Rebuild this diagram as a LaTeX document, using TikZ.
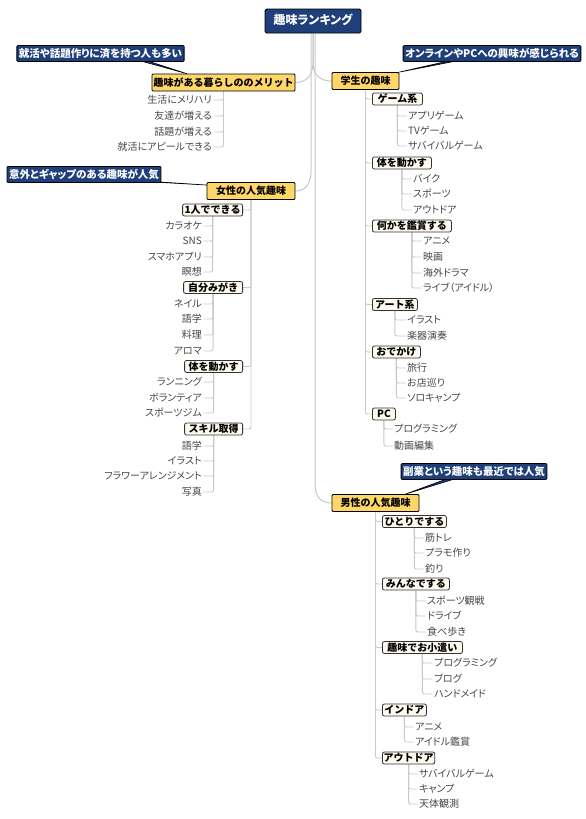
\documentclass[tikz,border=0pt]{standalone}
\usepackage{fontspec}
\setmainfont{Noto Sans CJK JP}[RawFeature=+palt]
\newfontfamily\jpfull{Noto Sans CJK JP}
\usetikzlibrary{calc}
\definecolor{cblue}{RGB}{31,63,122}
\definecolor{cyel}{RGB}{255,215,105}
\definecolor{ccream}{RGB}{255,250,240}
\definecolor{cline}{RGB}{200,200,200}
\definecolor{cleaf}{RGB}{70,70,70}
\pgfdeclarelayer{bg}
\pgfsetlayers{bg,main}
\begin{document}
\begin{tikzpicture}[x=1pt,y=-1pt,
 every node/.style={text height=0.82em, text depth=0.1em},
 rootbox/.style={draw=black, line width=0.9pt, fill=cblue, text=white, font=\bfseries\fontsize{12}{14}\selectfont, rounded corners=1.5pt, minimum width=96pt, minimum height=24pt, inner sep=2pt},
 callout/.style={draw=black, line width=0.8pt, fill=cblue, text=white, font=\bfseries\fontsize{10.5}{12}\selectfont, rounded corners=1pt, minimum height=16pt, inner sep=2pt},
 topic/.style={draw=black, line width=0.8pt, fill=cyel, font=\jpfull\bfseries\fontsize{10}{12}\selectfont, rounded corners=1pt, minimum height=17pt, inner sep=1.5pt},
 subbox/.style={draw=black!80, line width=0.8pt, fill=ccream, font=\jpfull\bfseries\fontsize{10}{12}\selectfont, rounded corners=2pt, minimum height=12pt, inner sep=1.2pt, anchor=west},
 subboxl/.style={subbox, anchor=east},
 leaf/.style={text=cleaf, font=\fontsize{10}{12}\selectfont, inner sep=1.5pt, anchor=west},
 leafl/.style={leaf, anchor=east},
 conn/.style={draw=cline, line width=0.9pt, rounded corners=2pt},
 trunk/.style={draw=cline, line width=1pt},
 tail/.style={fill=cblue, draw=black, line width=0.6pt, line join=round}
]
\useasboundingbox (0,0) rectangle (586,819);

% root, callouts, topics
\node[rootbox] (root) at (313,21) {趣味ランキング};
\node[callout, minimum width=165pt] (c1) at (100.5,53.5) {就活や話題作りに済を持つ人も多い};
\node[callout, minimum width=172pt] (c2) at (492,53.5) {オンラインやPCへの興味が感じられる};
\node[callout, minimum width=152pt] (c3) at (84,174.5) {意外とギャップのある趣味が人気};
\node[callout, minimum width=144pt] (c4) at (474,471.5) {副業という趣味も最近では人気};

\node[topic, minimum width=143pt] (m) at (223.5,82.5) {趣味がある暮らしののメリット};
\node[topic, minimum width=67pt] (s) at (365.5,81) {学生の趣味};
\node[topic, minimum width=88pt] (f) at (251,191) {女性の人気趣味};
\node[topic, minimum width=87pt] (d) at (375.5,503) {男性の人気趣味};

% merit leaves
\node[leafl] (m1) at (213.5,100) {生活にメリハリ};
\node[leafl] (m2) at (213.5,116) {友達が増える};
\node[leafl] (m3) at (213.5,132) {話題が増える};
\node[leafl] (m4) at (213.5,147) {就活にアピールできる};

% student groups
\node[subbox, minimum width=50pt] (g1) at (372,99) {ゲーム系};
\node[leaf] (g1a) at (406.5,116) {アプリゲーム};
\node[leaf] (g1b) at (406.5,131) {TVゲーム};
\node[leaf] (g1c) at (406.5,146) {サバイバルゲーム};
\node[subbox, minimum width=59pt] (g2) at (372,163) {体を動かす};
\node[leaf] (g2a) at (411.5,179) {バイク};
\node[leaf] (g2b) at (411.5,194) {スポーツ};
\node[leaf] (g2c) at (411.5,210) {アウトドア};
\node[subbox, minimum width=79pt] (g3) at (372,226) {何かを鑑賞する};
\node[leaf] (g3a) at (421.5,241) {アニメ};
\node[leaf] (g3b) at (421.5,257) {映画};
\node[leaf] (g3c) at (421.5,273) {海外ドラマ};
\node[leaf] (g3d) at (421.5,288) {ライブ（アイドル）};
\node[subbox, minimum width=45pt] (g4) at (372,304.5) {アート系};
\node[leaf] (g4a) at (405.5,320) {イラスト};
\node[leaf] (g4b) at (405.5,336) {楽器演奏};
\node[subbox, minimum width=48pt] (g5) at (372,352) {おでかけ};
\node[leaf] (g5a) at (405.5,368) {旅行};
\node[leaf] (g5b) at (405.5,383) {お店巡り};
\node[leaf] (g5c) at (405.5,398) {ソロキャンプ};
\node[subbox, minimum width=23pt] (g6) at (372,414) {PC};
\node[leaf] (g6a) at (392.5,429) {プログラミング};
\node[leaf] (g6b) at (392.5,446) {動画編集};

% women groups
\node[subboxl, minimum width=60pt] (w1) at (243,210) {1人でできる};
\node[leafl] (w1a) at (203.5,226) {カラオケ};
\node[leafl] (w1b) at (203.5,241) {SNS};
\node[leafl] (w1c) at (203.5,257) {スマホアプリ};
\node[leafl] (w1d) at (203.5,272) {瞑想};
\node[subboxl, minimum width=59pt] (w2) at (243,287.5) {自分みがき};
\node[leafl] (w2a) at (203.5,304) {ネイル};
\node[leafl] (w2b) at (203.5,319) {語学};
\node[leafl] (w2c) at (203.5,335) {料理};
\node[leafl] (w2d) at (203.5,351) {アロマ};
\node[subboxl, minimum width=58pt] (w3) at (243,366.5) {体を動かす};
\node[leafl] (w3a) at (203.5,382) {ランニング};
\node[leafl] (w3b) at (203.5,398) {ボランティア};
\node[leafl] (w3c) at (203.5,413) {スポーツジム};
\node[subboxl, minimum width=58pt] (w4) at (243,429) {スキル取得};
\node[leafl] (w4a) at (203.5,446) {語学};
\node[leafl] (w4b) at (203.5,461) {イラスト};
\node[leafl] (w4c) at (203.5,476) {フラワーアレンジメント};
\node[leafl] (w4d) at (203.5,492) {写真};

% men groups
\node[subbox, minimum width=64pt] (h1) at (382,521.5) {ひとりでする};
\node[leaf] (h1a) at (423.5,538) {筋トレ};
\node[leaf] (h1b) at (423.5,553) {プラモ作り};
\node[leaf] (h1c) at (423.5,569) {釣り};
\node[subbox, minimum width=67pt] (h2) at (382,584) {みんなでする};
\node[leaf] (h2a) at (425.5,601) {スポーツ観戦};
\node[leaf] (h2b) at (425.5,616) {ドライブ};
\node[leaf] (h2c) at (425.5,632) {食べ歩き};
\node[subbox, minimum width=80pt] (h3) at (382,647.5) {趣味でお小遣い};
\node[leaf] (h3a) at (432.5,663) {プログラミング};
\node[leaf] (h3b) at (432.5,679) {ブログ};
\node[leaf] (h3c) at (432.5,694) {ハンドメイド};
\node[subbox, minimum width=44pt] (h4) at (382,710) {インドア};
\node[leaf] (h4a) at (413.5,727) {アニメ};
\node[leaf] (h4b) at (413.5,742) {アイドル鑑賞};
\node[subbox, minimum width=52pt] (h5) at (382,758) {アウトドア};
\node[leaf] (h5a) at (417.5,774) {サバイバルゲーム};
\node[leaf] (h5b) at (417.5,789) {キャンプ};
\node[leaf] (h5c) at (417.5,804) {天体観測};

\begin{pgfonlayer}{bg}
% trunk
\draw[trunk] (root.south) -- ++(0,29) .. controls +(0,14) and +(10,0) .. (m.east);
\draw[trunk] (root.south) -- ++(0,29) .. controls +(0,14) and +(-10,0) .. (s.west);
\draw[trunk] ($(root.south)+(-2,0)$) -- ++(0,137) .. controls +(0,14) and +(10,0) .. (f.east);
\draw[trunk] ($(root.south)+(2,0)$) -- ++(0,450) .. controls +(0,14) and +(-10,0) .. (d.west);
% callout tails
\draw[tail] ($(c1.south west)+(124,-1)$) -- ($(m.north west)+(35,0)$) -- ($(c1.south west)+(131,-1)$) -- cycle;
\draw[tail] ($(c2.south west)+(46,-1)$) -- (s.north east) -- ($(c2.south west)+(54,-1)$) -- cycle;
\draw[tail] ($(c3.south east)+(-10,-1)$) -- ($(f.north west)+(1,3)$) -- ($(c3.south east)+(-3,-1)$) -- cycle;
\draw[tail] ($(c4.south west)+(46,-1)$) -- ($(d.north)+(30,0)$) -- ($(c4.south west)+(54,-1)$) -- cycle;
% merit
\foreach \c in {m1,m2,m3,m4} \draw[conn] (m.south) |- (\c.east);
% student
\foreach \c in {g1,g2,g3,g4,g5,g6} \draw[conn] (s.south) |- (\c.west);
\foreach \p/\c in {g1/g1a,g1/g1b,g1/g1c,g2/g2a,g2/g2b,g2/g2c,g3/g3a,g3/g3b,g3/g3c,g3/g3d,g4/g4a,g4/g4b,g5/g5a,g5/g5b,g5/g5c,g6/g6a,g6/g6b}
  \draw[conn] (\p.south) |- (\c.west);
% women
\foreach \c in {w1,w2,w3,w4} \draw[conn] (f.south) |- (\c.east);
\foreach \p/\c in {w1/w1a,w1/w1b,w1/w1c,w1/w1d,w2/w2a,w2/w2b,w2/w2c,w2/w2d,w3/w3a,w3/w3b,w3/w3c,w4/w4a,w4/w4b,w4/w4c,w4/w4d}
  \draw[conn] (\p.south) |- (\c.east);
% men
\foreach \c in {h1,h2,h3,h4,h5} \draw[conn] (d.south) |- (\c.west);
\foreach \p/\c in {h1/h1a,h1/h1b,h1/h1c,h2/h2a,h2/h2b,h2/h2c,h3/h3a,h3/h3b,h3/h3c,h4/h4a,h4/h4b,h5/h5a,h5/h5b,h5/h5c}
  \draw[conn] (\p.south) |- (\c.west);
\end{pgfonlayer}
\end{tikzpicture}
\end{document}
